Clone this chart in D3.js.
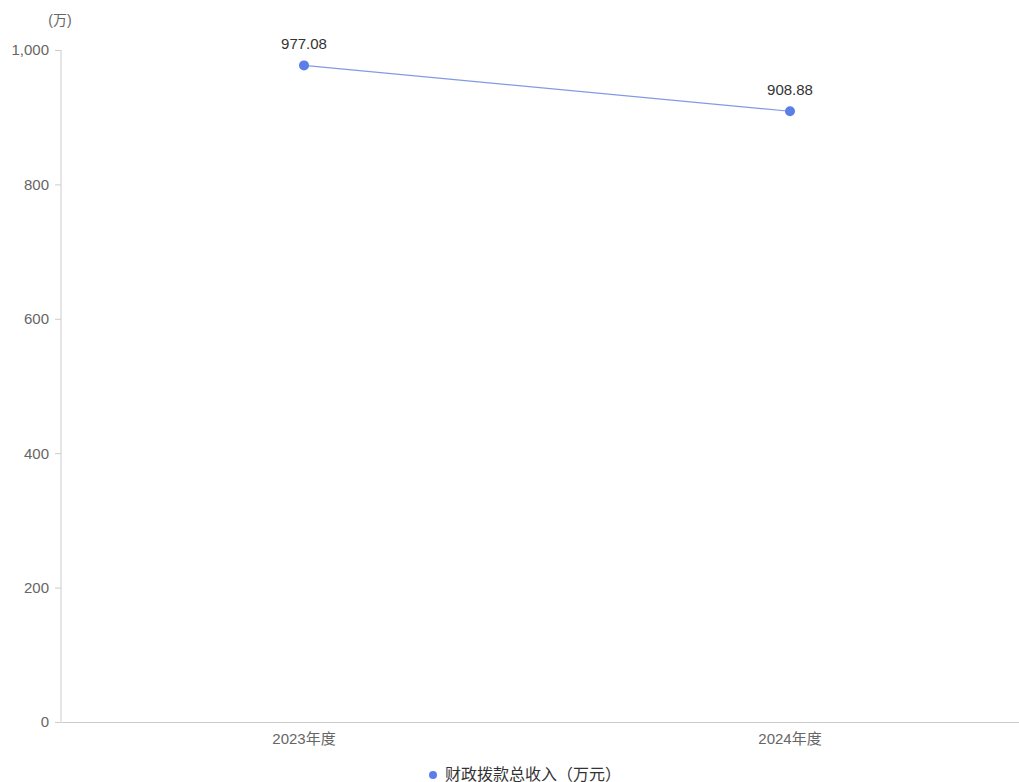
<!DOCTYPE html>
<html>
<head>
<meta charset="utf-8">
<script src="https://cdn.jsdelivr.net/npm/d3@7/dist/d3.min.js"></script>
<style>
  body { margin: 0; background: #fff; }
  text { font-family: "Liberation Sans", Arial, "Noto Sans CJK SC", sans-serif; }
</style>
</head>
<body>
<svg id="chart" width="1019" height="782"></svg>
<script>
const categories = ['2023年度', '2024年度'];
const values = [977.08, 908.88];
const yTicks = [0, 200, 400, 600, 800, 1000];
const seriesName = '财政拨款总收入（万元）';
const unitLabel = '(万)';

const padLeft = 61, padTop = 50, padBottom = 722;

const svg = d3.select('#chart');

const x = d3.scaleBand()
  .domain(categories)
  .range([padLeft, 1033]);

const y = d3.scaleLinear()
  .domain([0, 1000])
  .range([padBottom, padTop]);

// y axis
const yAxis = svg.append('g')
  .attr('transform', `translate(${padLeft},0)`)
  .call(d3.axisLeft(y).tickValues(yTicks).tickSize(6).tickPadding(6).tickFormat(d3.format(',')));
yAxis.select('.domain').attr('stroke', '#ccc').attr('d', `M0,${padBottom}V${padTop}`);
yAxis.selectAll('.tick line').attr('stroke', '#ccc');
yAxis.selectAll('.tick text').attr('fill', '#666').style('font-size', '15px');

// x axis
const xAxis = svg.append('g')
  .attr('transform', `translate(0,${padBottom})`)
  .call(d3.axisBottom(x).tickSize(0).tickPadding(11));
xAxis.select('.domain').attr('stroke', '#ccc');
xAxis.selectAll('.tick text').attr('fill', '#666').style('font-size', '15px');

// unit
svg.append('text')
  .attr('x', 60)
  .attr('y', 25)
  .attr('text-anchor', 'middle')
  .attr('fill', '#666')
  .style('font-size', '14px')
  .text(unitLabel);

// line
const line = d3.line()
  .x((d, i) => x(categories[i]) + x.bandwidth() / 2)
  .y(d => y(d));

svg.append('path')
  .datum(values)
  .attr('d', line)
  .attr('fill', 'none')
  .attr('stroke', '#8499e6')
  .attr('stroke-width', 1.2);

// points
svg.selectAll('.pt')
  .data(values)
  .enter()
  .append('circle')
  .attr('cx', (d, i) => x(categories[i]) + x.bandwidth() / 2)
  .attr('cy', d => y(d))
  .attr('r', 5)
  .attr('fill', '#5b7ee8');

// labels
svg.selectAll('.lbl')
  .data(values)
  .enter()
  .append('text')
  .attr('x', (d, i) => x(categories[i]) + x.bandwidth() / 2)
  .attr('y', d => y(d) - 16)
  .attr('text-anchor', 'middle')
  .attr('fill', '#333')
  .style('font-size', '15px')
  .text(d => d.toFixed(2));

// legend
svg.append('circle')
  .attr('cx', 433)
  .attr('cy', 775)
  .attr('r', 4)
  .attr('fill', '#5b7ee8');
svg.append('text')
  .attr('x', 445)
  .attr('y', 780)
  .attr('fill', '#333')
  .style('font-size', '16px')
  .text(seriesName);
</script>
</body>
</html>
